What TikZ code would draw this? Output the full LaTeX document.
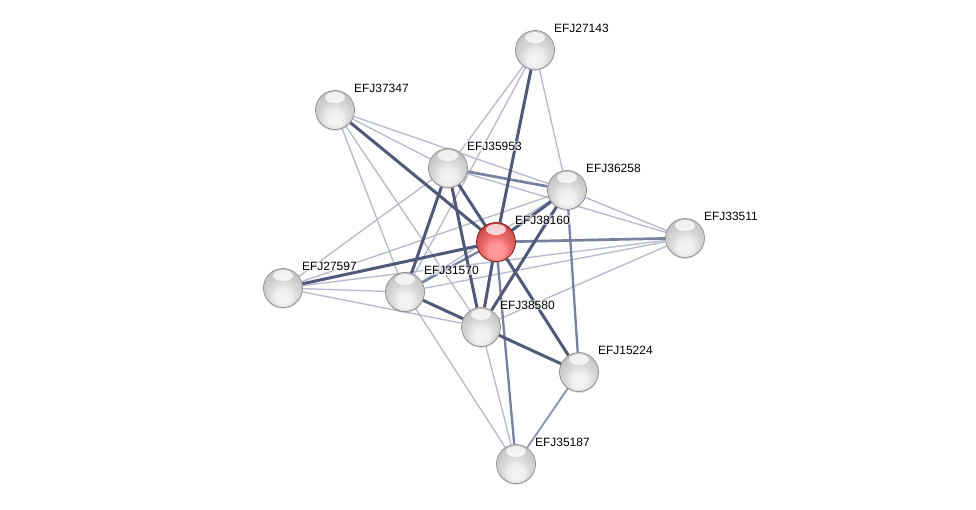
\documentclass[tikz,border=0pt]{standalone}
\usepackage{fontspec}
\setmainfont{Liberation Sans}
\usetikzlibrary{calc,shadows}
\pgfdeclarelayer{bg}
\pgfsetlayers{bg,main}
\definecolor{thinc}{RGB}{180,185,204}
\definecolor{medc}{RGB}{120,129,160}
\definecolor{thickc}{RGB}{80,90,120}
\pgfdeclareradialshading{stringgray}{\pgfpoint{0bp}{-14bp}}{color(0bp)=(gray!8); color(10bp)=(gray!12); color(18bp)=(gray!30); color(28bp)=(gray!45); color(39bp)=(gray!58); color(50bp)=(gray!62)}
\pgfdeclareradialshading{stringred}{\pgfpoint{0bp}{-14bp}}{color(0bp)=(red!38!white); color(10bp)=(red!42!white); color(18bp)=(red!55!white!92!black); color(28bp)=(red!62!white!80!black); color(39bp)=(red!70!black); color(50bp)=(red!60!black)}
\tikzset{
  hilite/.style={path picture={\fill[white, opacity=0.75] ($(path picture bounding box.center)+(0,-12.5)$) ellipse [x radius=10, y radius=5.5];}},
  ball/.style={circle, minimum size=39pt, inner sep=0pt, shading=stringgray, draw=gray!95, line width=0.6pt, hilite, drop shadow={shadow xshift=0pt, shadow yshift=-1.2pt, opacity=0.35}},
  redball/.style={circle, minimum size=39pt, inner sep=0pt, shading=stringred, draw=red!45!black, line width=0.6pt, hilite, drop shadow={shadow xshift=0pt, shadow yshift=-1.2pt, opacity=0.35}},
  lbl/.style={font=\fontsize{12}{14}\selectfont, anchor=base west, inner sep=0.8pt, text=black, fill=white, fill opacity=0.55, text opacity=1, rounded corners=2pt},
  thinedge/.style={draw=thinc, line width=1.3pt},
  mededge/.style={draw=medc, line width=2.3pt},
  thickedge/.style={draw=thickc, line width=3pt}
}
\begin{document}
\begin{tikzpicture}[x=1pt,y=-1pt]
\useasboundingbox (0,0) rectangle (976,509);
\node[ball] (A) at (535,50) {};
\node[ball] (B) at (335,110) {};
\node[ball] (C) at (448,168) {};
\node[ball] (D) at (567,190) {};
\node[redball] (E) at (496,242) {};
\node[ball] (F) at (685,238) {};
\node[ball] (G) at (283,288) {};
\node[ball] (H) at (405,292) {};
\node[ball] (I) at (481,327) {};
\node[ball] (J) at (579,372) {};
\node[ball] (K) at (516,464) {};
\begin{pgfonlayer}{bg}
\fill[white] (0,0) rectangle (976,509);
\draw[thinedge] (A) -- (D);
\draw[thinedge] (A) -- (C);
\draw[thinedge] (A) -- (H);
\draw[thinedge] (B) -- (D);
\draw[thinedge] (B) -- (C);
\draw[thinedge] (B) -- (H);
\draw[thinedge] (B) -- (I);
\draw[thinedge] (C) -- (F);
\draw[thinedge] (C) -- (G);
\draw[thinedge] (D) -- (F);
\draw[thinedge] (D) -- (G);
\draw[thinedge] (D) -- (H);
\draw[thinedge] (F) -- (G);
\draw[thinedge] (F) -- (H);
\draw[thinedge] (F) -- (I);
\draw[thinedge] (G) -- (H);
\draw[thinedge] (G) -- (I);
\draw[thinedge] (H) -- (K);
\draw[thinedge] (I) -- (K);
\draw[thinedge, draw=medc!70!thinc, line width=1.8pt] (J) -- (K);
\draw[mededge] (D) -- (J);
\draw[mededge] (E) -- (H);
\draw[mededge] (E) -- (K);
\draw[mededge, line width=2.7pt] (E) -- (F);
\draw[mededge, line width=2.7pt] (C) -- (D);
\draw[thickedge] (A) -- (E);
\draw[thickedge] (B) -- (E);
\draw[thickedge] (C) -- (E);
\draw[thickedge] (C) -- (H);
\draw[thickedge] (C) -- (I);
\draw[thickedge] (D) -- (E);
\draw[thickedge] (D) -- (I);
\draw[thickedge] (E) -- (G);
\draw[thickedge] (E) -- (I);
\draw[thickedge] (E) -- (J);
\draw[thickedge] (H) -- (I);
\draw[thickedge] (I) -- (J);
\end{pgfonlayer}
\node[lbl] (lA) at ([shift={(18,-18)}]A.center) {EFJ27143};
\node[lbl] (lB) at ([shift={(18,-18)}]B.center) {EFJ37347};
\node[lbl] (lC) at ([shift={(18,-18)}]C.center) {EFJ35953};
\node[lbl] (lD) at ([shift={(18,-18)}]D.center) {EFJ36258};
\node[lbl] (lE) at ([shift={(18,-18)}]E.center) {EFJ38160};
\node[lbl] (lF) at ([shift={(18,-18)}]F.center) {EFJ33511};
\node[lbl] (lG) at ([shift={(18,-18)}]G.center) {EFJ27597};
\node[lbl] (lH) at ([shift={(18,-18)}]H.center) {EFJ31570};
\node[lbl] (lI) at ([shift={(18,-18)}]I.center) {EFJ38580};
\node[lbl] (lJ) at ([shift={(18,-18)}]J.center) {EFJ15224};
\node[lbl] (lK) at ([shift={(18,-18)}]K.center) {EFJ35187};
\end{tikzpicture}
\end{document}
